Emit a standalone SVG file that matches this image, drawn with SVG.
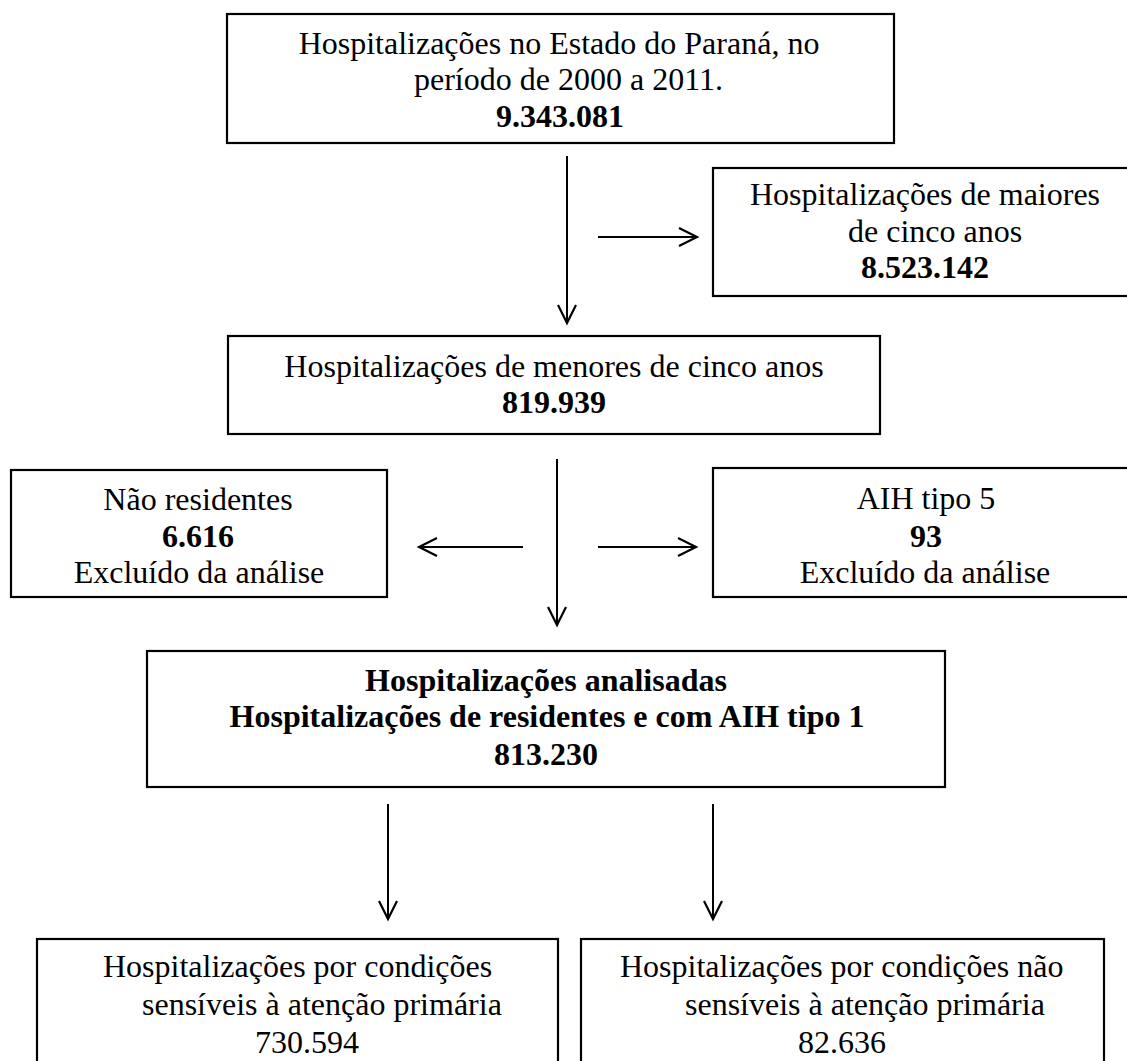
<svg xmlns="http://www.w3.org/2000/svg" width="1127" height="1061" viewBox="0 0 1127 1061">
<style>
.box{fill:#fff;stroke:#000;stroke-width:2.2}
.t{font-family:"Liberation Serif","Times New Roman",serif;font-size:32px;fill:#000}
.c{text-anchor:middle}
.b{font-weight:bold}
.ln{stroke:#000;stroke-width:2;fill:none}
</style>
<defs>
<marker id="ah" markerWidth="24" markerHeight="24" viewBox="-20 -12 24 24" refX="0" refY="0" orient="auto" markerUnits="userSpaceOnUse">
<path d="M-18,-9 L0,0 L-18,9" fill="none" stroke="#000" stroke-width="2.2"/>
</marker>
</defs>
<rect width="1127" height="1061" fill="#fff"/>
<g id="connectors">
<line class="ln" x1="567" y1="156" x2="567" y2="323" marker-end="url(#ah)"/>
<line class="ln" x1="598" y1="237" x2="697" y2="237" marker-end="url(#ah)"/>
<line class="ln" x1="557" y1="459" x2="557" y2="625" marker-end="url(#ah)"/>
<line class="ln" x1="523" y1="547" x2="419" y2="547" marker-end="url(#ah)"/>
<line class="ln" x1="598" y1="547" x2="696" y2="547" marker-end="url(#ah)"/>
<line class="ln" x1="388" y1="804" x2="388" y2="919" marker-end="url(#ah)"/>
<line class="ln" x1="713" y1="804" x2="713" y2="919" marker-end="url(#ah)"/>
</g>
<g id="n1">
<rect class="box" x="227" y="14" width="667" height="129"/>
<text class="t c" x="559" y="54">Hospitalizações no Estado do Paraná, no</text>
<text class="t" x="414" y="90">período de 2000 a 2011.</text>
<text class="t c b" x="560" y="127">9.343.081</text>
</g>
<g id="n2">
<rect class="box" x="713" y="168" width="440" height="128"/>
<text class="t c" x="925" y="205">Hospitalizações de maiores</text>
<text class="t" x="848" y="242">de cinco anos</text>
<text class="t c b" x="925" y="278">8.523.142</text>
</g>
<g id="n3">
<rect class="box" x="228" y="336" width="652" height="98"/>
<text class="t c" x="554" y="377">Hospitalizações de menores de cinco anos</text>
<text class="t c b" x="554" y="413">819.939</text>
</g>
<g id="n4">
<rect class="box" x="11" y="470" width="376" height="127"/>
<text class="t c" x="198" y="510">Não residentes</text>
<text class="t c b" x="198" y="547">6.616</text>
<text class="t c" x="199" y="583">Excluído da análise</text>
</g>
<g id="n5">
<rect class="box" x="713" y="468" width="440" height="129"/>
<text class="t c" x="926" y="509">AIH tipo 5</text>
<text class="t c b" x="926" y="547">93</text>
<text class="t c" x="925" y="583">Excluído da análise</text>
</g>
<g id="n6">
<rect class="box" x="147" y="651" width="798" height="136"/>
<text class="t c b" x="546" y="691">Hospitalizações analisadas</text>
<text class="t c b" x="547" y="727">Hospitalizações de residentes e com AIH tipo 1</text>
<text class="t c b" x="546" y="765">813.230</text>
</g>
<g id="n7">
<rect class="box" x="37" y="939" width="521" height="200"/>
<text class="t" x="103" y="977">Hospitalizações por condições</text>
<text class="t" x="142" y="1015">sensíveis à atenção primária</text>
<text class="t c" x="307" y="1053">730.594</text>
</g>
<g id="n8">
<rect class="box" x="581" y="939" width="523" height="200"/>
<text class="t" x="620" y="977">Hospitalizações por condições não</text>
<text class="t" x="685" y="1015">sensíveis à atenção primária</text>
<text class="t c" x="842" y="1053">82.636</text>
</g>
</svg>
